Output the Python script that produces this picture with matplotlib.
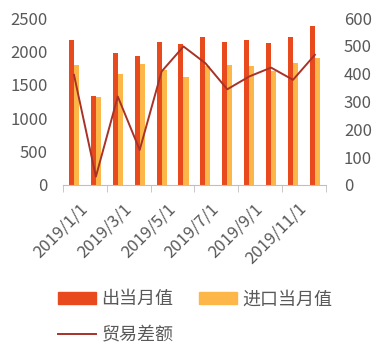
import numpy as np
import matplotlib.pyplot as plt
import matplotlib.transforms as mtransforms
from matplotlib.patches import Patch
from matplotlib.lines import Line2D

plt.rcParams['font.family'] = ['Noto Sans CJK SC', 'DejaVu Sans']

months = ['2019/1/1', '2019/2/1', '2019/3/1', '2019/4/1', '2019/5/1', '2019/6/1',
          '2019/7/1', '2019/8/1', '2019/9/1', '2019/10/1', '2019/11/1', '2019/12/1']
export_vals = [2175, 1340, 1975, 1925, 2135, 2115, 2215, 2145, 2175, 2125, 2210, 2375]
import_vals = [1790, 1315, 1665, 1805, 1725, 1620, 1780, 1795, 1785, 1700, 1830, 1905]
balance = [396, 30, 318, 126, 408, 498, 438, 344, 390, 422, 378, 468]

c_exp = '#E84A1E'
c_imp = '#FDB748'
c_line = '#A83228'
c_txt = '#595959'

fig = plt.figure(figsize=(3.82, 3.55), dpi=100)
ax = fig.add_axes([0.165, 0.479, 0.688, 0.47])
x = np.arange(len(months))
w = 0.23
ax.bar(x - w / 2, export_vals, w, color=c_exp)
ax.bar(x + w / 2, import_vals, w, color=c_imp)
ax.set_ylim(0, 2500)
ax.set_yticks(range(0, 2501, 500))
ax.set_xlim(-0.5, 11.5)

ax2 = ax.twinx()
ax2.plot(x, balance, color=c_line, lw=1.4)
ax2.set_ylim(0, 600)
ax2.set_yticks(range(0, 601, 100))

for a in (ax, ax2):
    for s in a.spines.values():
        s.set_visible(False)
ax.tick_params(axis='y', length=0, labelsize=12, labelcolor=c_txt, pad=11)
ax2.tick_params(axis='y', length=0, labelsize=12, labelcolor=c_txt, pad=13)
ax.spines['bottom'].set_visible(True)
ax.spines['bottom'].set_color('#BFBFBF')

ax.set_xticks(x[::2])
ax.set_xticklabels(months[::2], rotation=45, ha='right', rotation_mode='anchor')
ax.set_xticks(np.arange(-0.5, 12, 2), minor=True)
ax.tick_params(axis='x', which='major', length=0, labelsize=12, labelcolor=c_txt, pad=10)
ax.tick_params(axis='x', which='minor', length=5, color='#BFBFBF')
shift = mtransforms.ScaledTranslation(5 / 100, -1 / 100, fig.dpi_scale_trans)
for lbl in ax.get_xticklabels():
    lbl.set_transform(lbl.get_transform() + shift)

handles = [Patch(color=c_exp), Line2D([], [], color=c_line, lw=1.4), Patch(color=c_imp)]
labels = ['出当月值', '贸易差额', '进口当月值']
fig.legend(handles, labels, loc='upper left', bbox_to_anchor=(0.11, 0.228), ncol=2,
           frameon=False, fontsize=13, labelcolor=c_txt, handlelength=2.1,
           handleheight=0.6, columnspacing=1.4, labelspacing=1.0, handletextpad=0.3)

fig.savefig('out.png', dpi=100)
